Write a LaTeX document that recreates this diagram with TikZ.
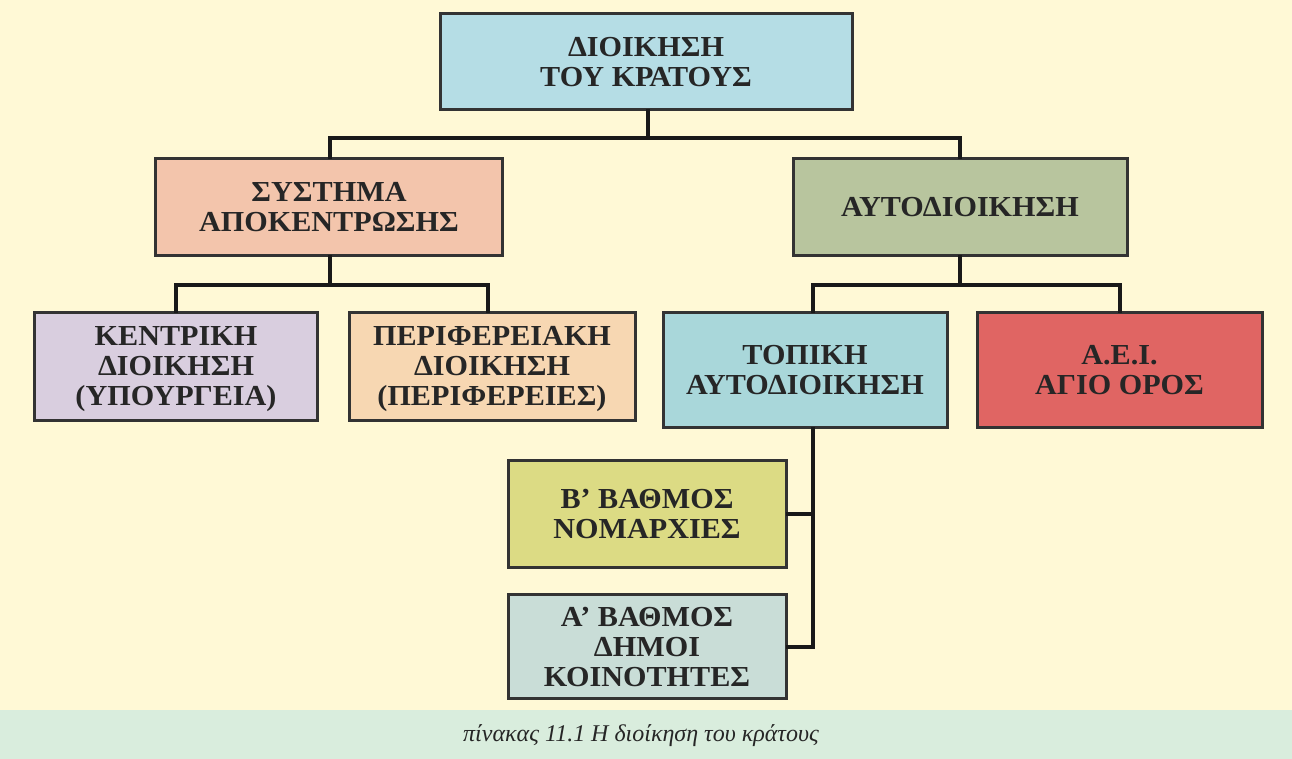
\documentclass[tikz,border=0pt]{standalone}
\usepackage{fontspec}
\setmainfont{Liberation Serif}
\newfontfamily\boxfont{Liberation Serif}[FakeStretch=1.04]
\usetikzlibrary{positioning}
\definecolor{bgcream}{HTML}{FFF9D6}
\definecolor{capband}{HTML}{D9EDDD}
\definecolor{cTop}{HTML}{B5DDE5}
\definecolor{cSys}{HTML}{F3C5AC}
\definecolor{cAuto}{HTML}{B8C59E}
\definecolor{cKent}{HTML}{D9CEDF}
\definecolor{cPeri}{HTML}{F7D7B2}
\definecolor{cTopi}{HTML}{A9D7DA}
\definecolor{cAei}{HTML}{E06563}
\definecolor{cB}{HTML}{DCDB84}
\definecolor{cA}{HTML}{C9DDD7}
\definecolor{txt}{HTML}{262626}
\definecolor{edge}{HTML}{333333}
\tikzset{
  orgbox/.style={draw=edge, line width=3pt, rectangle, align=center, inner sep=0pt,
    text depth=0pt, text=txt, font=\boxfont\fontsize{29}{30}\selectfont\bfseries},
  conn/.style={draw=black!90, line width=4pt, line cap=rect, line join=miter},
}
\begin{document}
\begin{tikzpicture}[x=1pt,y=-1pt]
\fill[bgcream] (0,0) rectangle (1292,710);
\fill[capband] (0,710) rectangle (1292,759);
\useasboundingbox (0,0) rectangle (1292,759);

\node[orgbox, fill=cTop, minimum width=412pt, minimum height=96pt] (top) at (646,62) {ΔΙΟΙΚΗΣΗ\\ΤΟΥ ΚΡΑΤΟΥΣ};
\node[orgbox, fill=cSys, minimum width=347pt, minimum height=97pt] (sys) at (329,207) {ΣΥΣΤΗΜΑ\\ΑΠΟΚΕΝΤΡΩΣΗΣ};
\node[orgbox, fill=cAuto, minimum width=334pt, minimum height=97pt] (auto) at (960,207) {ΑΥΤΟΔΙΟΙΚΗΣΗ};
\node[orgbox, fill=cKent, minimum width=283pt, minimum height=108pt] (kent) at (176,366) {ΚΕΝΤΡΙΚΗ\\ΔΙΟΙΚΗΣΗ\\(ΥΠΟΥΡΓΕΙΑ)};
\node[orgbox, fill=cPeri, minimum width=286pt, minimum height=108pt] (peri) at (492,366) {ΠΕΡΙΦΕΡΕΙΑΚΗ\\ΔΙΟΙΚΗΣΗ\\(ΠΕΡΙΦΕΡΕΙΕΣ)};
\node[orgbox, fill=cTopi, minimum width=284pt, minimum height=115pt] (topi) at (805,369.5) {ΤΟΠΙΚΗ\\ΑΥΤΟΔΙΟΙΚΗΣΗ};
\node[orgbox, fill=cAei, minimum width=285pt, minimum height=115pt] (aei) at (1119.5,369.5) {Α.Ε.Ι.\\ΑΓΙΟ ΟΡΟΣ};
\node[orgbox, fill=cB, minimum width=278pt, minimum height=107pt] (bv) at (647,513.5) {Β’ ΒΑΘΜΟΣ\\ΝΟΜΑΡΧΙΕΣ};
\node[orgbox, fill=cA, minimum width=278pt, minimum height=104pt] (av) at (647,646.5) {Α’ ΒΑΘΜΟΣ\\ΔΗΜΟΙ\\ΚΟΙΝΟΤΗΤΕΣ};

% connectors
\draw[conn] ([xshift=2pt]top.south) -- ++(0,27) coordinate (j1);
\draw[conn] ([xshift=1pt]sys.north) |- (j1) -| (auto.north);
\draw[conn] ([xshift=1pt]sys.south) -- ++(0,28) coordinate (j2);
\draw[conn] (kent.north) |- (j2) -| ([xshift=-4pt]peri.north);
\draw[conn] (auto.south) -- ++(0,28) coordinate (j3);
\draw[conn] ([xshift=8pt]topi.north) |- (j3) -| (aei.north);
\coordinate (t) at ([xshift=8pt]topi.south);
\draw[conn] (t) |- (av.east);
\draw[conn] (bv.east) -- (bv.east -| t);

\node[font=\fontsize{24}{26}\selectfont\itshape, text=black!85] (cap) at (641,736) {πίνακας 11.1 Η διοίκηση του κράτους};
\end{tikzpicture}
\end{document}
